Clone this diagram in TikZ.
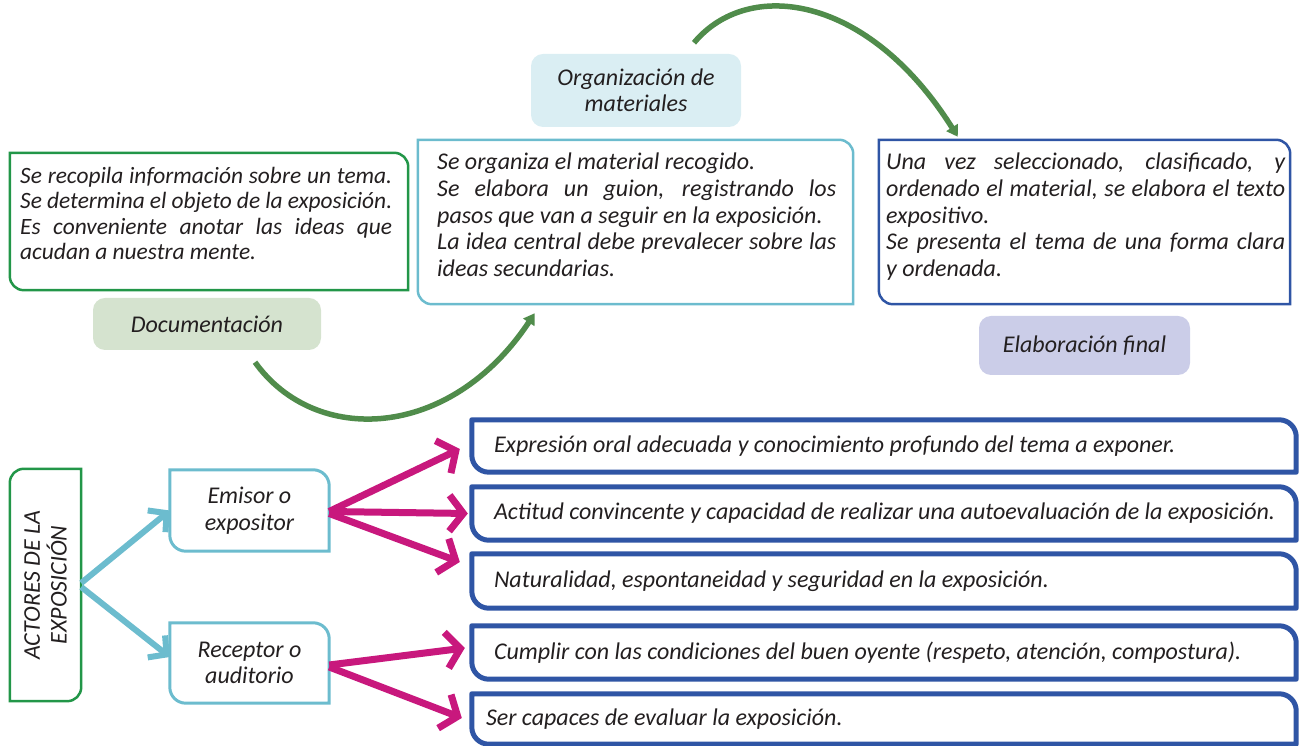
\documentclass[tikz,border=0pt]{standalone}
\usepackage{fontspec}
\setmainfont{Carlito}
\usetikzlibrary{arrows.meta}
\definecolor{txt}{RGB}{35,31,32}
\definecolor{gbox}{RGB}{34,150,72}
\definecolor{gfill}{RGB}{213,227,207}
\definecolor{lbfill}{RGB}{218,238,243}
\definecolor{lblue}{RGB}{108,188,206}
\definecolor{dblue}{RGB}{47,85,165}
\definecolor{pfill}{RGB}{203,205,232}
\definecolor{garrow}{RGB}{80,140,75}
\definecolor{magenta}{RGB}{200,24,125}
\newcommand\outTRBL[3]{\draw[#1] (#2.north west) -- ([xshift=-#3]#2.north east) arc[start angle=90,end angle=0,radius=#3] -- (#2.south east) -- ([xshift=#3]#2.south west) arc[start angle=270,end angle=180,radius=#3] -- cycle;}
\newcommand\outTLBR[3]{\draw[#1] ([yshift=-#3]#2.north west) arc[start angle=180,end angle=90,radius=#3] -- (#2.north east) -- ([yshift=#3]#2.south east) arc[start angle=0,end angle=-90,radius=#3] -- (#2.south west) -- cycle;}
\tikzset{
  every node/.style={font=\itshape\fontsize{24}{26.7}\selectfont, text=txt, inner sep=0pt},
  boxtext/.style={anchor=north west, align=justify, text width=#1},
  pill/.style={rounded corners=12pt},
  garc/.style={draw=garrow, line width=5.5pt, -{Triangle[length=11pt,width=13pt]}},
  marr/.style={draw=magenta, line width=7pt, -{Straight Barb[length=14pt,width=36pt]}},
  carr/.style={draw=lblue, line width=6pt, -{Straight Barb[length=13pt,width=28pt]}},
}
\begin{document}
\begin{tikzpicture}[x=1pt,y=1pt]
\useasboundingbox (0,0) rectangle (1300,746);
\tolerance=10000 \hyphenpenalty=10000
% top row
\node[minimum width=398pt, minimum height=137pt] (b1) at (209,524.5) {};
\outTRBL{draw=gbox, line width=2.5pt}{b1}{14pt}
\node[boxtext=372pt, font=\itshape\fontsize{23.4}{25.4}\selectfont] (t1) at (20,579) {Se recopila información sobre un tema.\linebreak Se determina el objeto de la exposición.\linebreak Es conveniente anotar las ideas que\linebreak acudan a nuestra mente.};
\node[pill, fill=gfill, minimum width=228pt, minimum height=52pt] (doc) at (207,422) {Documentación};

\node[pill, fill=lbfill, minimum width=210pt, minimum height=73pt, align=center, font=\itshape\fontsize{24}{26}\selectfont] (org) at (636,655.5) {Organización de\\materiales};
\node[minimum width=435pt, minimum height=164pt] (b2) at (635.5,524) {};
\outTRBL{draw=lblue, line width=2.5pt}{b2}{14pt}
\node[boxtext=399pt] (t2) at (437,593) {Se organiza el material recogido.\newline Se elabora un guion, registrando los\linebreak pasos que van a seguir en la exposición.\newline La idea central debe prevalecer sobre las\linebreak ideas secundarias.};

\node[minimum width=411pt, minimum height=164pt] (b3) at (1084.5,524) {};
\outTRBL{draw=dblue, line width=2.5pt}{b3}{14pt}
\node[boxtext=399pt] (t3) at (886,593) {Una vez seleccionado, clasificado, y\linebreak ordenado el material, se elabora el texto\linebreak expositivo.\newline Se presenta el tema de una forma clara\linebreak y ordenada.};
\node[pill, fill=pfill, minimum width=211pt, minimum height=59pt] (elab) at (1084.5,400.5) {Elaboración final};

% green arcs
\draw[garc] ([xshift=48pt,yshift=-12pt]doc.south) .. controls (315,300) and (450,305) .. ([xshift=117pt,yshift=-9pt]b2.south west);
\draw[garc] ([xshift=58pt,yshift=11pt]org.north) .. controls (748,768) and (868,752) .. ([xshift=79pt,yshift=3pt]b3.north west);

% bottom part
\node[minimum width=71pt, minimum height=232pt] (act) at (45.5,161) {};
\outTLBR{draw=gbox, line width=2.5pt}{act}{14pt}
\node[rotate=90, align=center] (actt) at (act.center) {ACTORES DE LA\\EXPOSICIÓN};

\node[minimum width=159pt, minimum height=81pt, align=center] (em) at (249.5,235.5) {Emisor o\\expositor};
\outTRBL{draw=lblue, line width=3pt}{em}{16pt}
\node[minimum width=159pt, minimum height=80pt, align=center] (re) at (249.5,83) {Receptor o\\auditorio};
\outTRBL{draw=lblue, line width=3pt}{re}{16pt}

\foreach \n/\y/\h in {a/300/52, b/232.5/53, c/165/54, d/93.5/53, e/27/50}{
  \node[minimum width=824pt, minimum height=\h pt] (\n) at (884,\y) {};
  \outTRBL{draw=dblue, line width=5pt, line join=round}{\n}{17pt}
}
\node[anchor=west] (ta) at ([xshift=22pt]a.west) {Expresión oral adecuada y conocimiento profundo del tema a exponer.};
\node[anchor=west] (tb) at ([xshift=22pt]b.west) {Actitud convincente y capacidad de realizar una autoevaluación de la exposición.};
\node[anchor=west] (tc) at ([xshift=22pt]c.west) {Naturalidad, espontaneidad y seguridad en la exposición.};
\node[anchor=west] (td) at ([xshift=22pt]d.west) {Cumplir con las condiciones del buen oyente (respeto, atención, compostura).};
\node[anchor=west] (te) at ([xshift=14pt]e.west) {Ser capaces de evaluar la exposición.};

\draw[carr] ([yshift=2pt]act.east) -- (em.west);
\draw[carr] ([yshift=-2pt]act.east) -- ([yshift=6pt]re.west);

\draw[marr] ([yshift=-1pt]em.east) -- ([xshift=-12pt,yshift=-3pt]a.west);
\draw[marr] ([yshift=-1pt]em.east) -- ([xshift=-4pt]b.west);
\draw[marr] ([yshift=-3pt]em.east) -- ([xshift=-12pt,yshift=19pt]c.west);
\draw[marr] ([yshift=-2pt]re.east) -- ([xshift=-7pt,yshift=4.5pt]d.west);
\draw[marr] ([yshift=-4pt]re.east) -- ([xshift=-10pt,yshift=1pt]e.west);
\end{tikzpicture}
\end{document}
